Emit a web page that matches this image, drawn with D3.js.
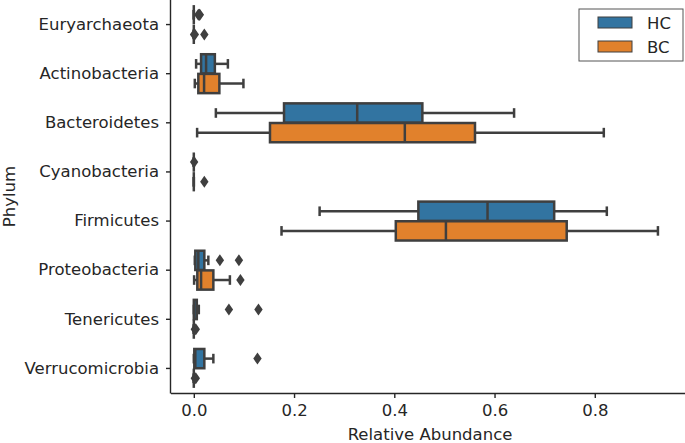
<!DOCTYPE html>
<html>
<head>
<meta charset="utf-8">
<script src="https://cdn.jsdelivr.net/npm/d3@7"></script>
<style>
  body { margin: 0; background: #fff; }
  text { font-family: "DejaVu Sans", sans-serif; fill: #262626; }
</style>
</head>
<body>
<svg width="685" height="443"></svg>
<script>
var categories = ["Euryarchaeota", "Actinobacteria", "Bacteroidetes", "Cyanobacteria",
  "Firmicutes", "Proteobacteria", "Tenericutes", "Verrucomicrobia"];
var groups = ["HC", "BC"];
var xTicks = [0, 0.2, 0.4, 0.6, 0.8];

// box stats per phylum: whisker low, q1, median, q3, whisker high
var hcLow = [0, 0.0046, 0.044, 0, 0.251, 0.002, 0, 0];
var hcQ1 = [0, 0.0145, 0.180, 0, 0.448, 0.003, 0, 0.001];
var hcMed = [0, 0.0245, 0.326, 0, 0.586, 0.009, 0.001, 0.003];
var hcQ3 = [0, 0.042, 0.456, 0, 0.719, 0.021, 0.006, 0.021];
var hcHigh = [0, 0.068, 0.639, 0, 0.824, 0.029, 0.010, 0.039];
var hcOutliers = [[0.009, 0.011, 0.012], [], [], [0.0006], [], [0.052, 0.090], [0.070, 0.129], [0.127]];

var bcLow = [0, 0.002, 0.0066, 0, 0.175, 0.0006, 0, 0];
var bcQ1 = [0, 0.009, 0.152, 0, 0.403, 0.007, 0, 0];
var bcMed = [0, 0.0205, 0.421, 0, 0.503, 0.0145, 0, 0];
var bcQ3 = [0, 0.051, 0.561, 0, 0.744, 0.039, 0, 0];
var bcHigh = [0, 0.099, 0.818, 0, 0.926, 0.072, 0, 0];
var bcOutliers = [[0.0005, 0.002, 0.021], [], [], [0.021], [], [0.093], [0.002, 0.004], [0.002, 0.004]];

var colors = { HC: "#3274a1", BC: "#e1812c" };
var gray = "#3f3f3f";
var lw = 2.5;

var svg = d3.select("svg"),
  width = +svg.attr("width"),
  height = +svg.attr("height");
var plotLeft = 171, plotTop = 0, plotBottom = 393;

var x = d3.scaleLinear().domain([-0.0455, 0.98]).range([plotLeft, width]);
var y = d3.scaleBand().domain(categories).range([plotTop, plotBottom]);
var hue = d3.scaleBand().domain(groups)
  .range([0.1 * y.bandwidth(), 0.9 * y.bandwidth()]);
var boxH = hue.bandwidth() * 0.98;

var stats = [];
categories.forEach(function (c, i) {
  stats.push({ cat: c, g: "HC", low: hcLow[i], q1: hcQ1[i], med: hcMed[i], q3: hcQ3[i], high: hcHigh[i], out: hcOutliers[i] });
  stats.push({ cat: c, g: "BC", low: bcLow[i], q1: bcQ1[i], med: bcMed[i], q3: bcQ3[i], high: bcHigh[i], out: bcOutliers[i] });
});

function cy(d) {
  return y(d.cat) + hue(d.g) + hue.bandwidth() / 2;
}

var box = svg.append("g").attr("class", "boxes")
  .selectAll("g").data(stats).enter().append("g");

// whiskers
box.append("line")
  .attr("x1", function (d) { return x(d.low); })
  .attr("x2", function (d) { return x(d.q1); })
  .attr("y1", cy).attr("y2", cy)
  .attr("stroke", gray).attr("stroke-width", lw);
box.append("line")
  .attr("x1", function (d) { return x(d.q3); })
  .attr("x2", function (d) { return x(d.high); })
  .attr("y1", cy).attr("y2", cy)
  .attr("stroke", gray).attr("stroke-width", lw);
// caps
["low", "high"].forEach(function (k) {
  box.append("line")
    .attr("x1", function (d) { return x(d[k]); })
    .attr("x2", function (d) { return x(d[k]); })
    .attr("y1", function (d) { return cy(d) - boxH / 4; })
    .attr("y2", function (d) { return cy(d) + boxH / 4; })
    .attr("stroke", gray).attr("stroke-width", lw);
});
// box
box.append("rect")
  .attr("x", function (d) { return x(d.q1); })
  .attr("width", function (d) { return x(d.q3) - x(d.q1); })
  .attr("y", function (d) { return cy(d) - boxH / 2; })
  .attr("height", boxH)
  .attr("fill", function (d) { return colors[d.g]; })
  .attr("stroke", gray).attr("stroke-width", lw);
// median
box.append("line")
  .attr("x1", function (d) { return x(d.med); })
  .attr("x2", function (d) { return x(d.med); })
  .attr("y1", function (d) { return cy(d) - boxH / 2; })
  .attr("y2", function (d) { return cy(d) + boxH / 2; })
  .attr("stroke", gray).attr("stroke-width", lw);
// outliers (thin diamonds)
box.selectAll("path.out")
  .data(function (d) { return d.out.map(function (v) { return { v: v, d: d }; }); })
  .enter().append("path")
  .attr("class", "out")
  .attr("d", "M0,-6L4.2,0L0,6L-4.2,0Z")
  .attr("transform", function (o) { return "translate(" + x(o.v) + "," + cy(o.d) + ")"; })
  .attr("fill", gray);

// axes
var xAxis = svg.append("g")
  .attr("transform", "translate(0," + plotBottom + ")")
  .call(d3.axisBottom(x).tickValues(xTicks).tickFormat(d3.format(".1f")).tickSize(5).tickPadding(6))
  .call(function (g) { g.select(".domain").attr("d", "M" + plotLeft + ",0.5H" + width); });
var yAxis = svg.append("g")
  .attr("transform", "translate(" + plotLeft + ",0)")
  .call(d3.axisLeft(y).tickSize(5).tickPadding(7))
  .call(function (g) { g.select(".domain").attr("d", "M-0.5," + plotTop + "V" + (plotBottom + 0.5)); });

[xAxis, yAxis].forEach(function (g) {
  g.select(".domain").attr("stroke", "#262626").attr("stroke-width", 1.4);
  g.selectAll(".tick line").attr("stroke", "#262626").attr("stroke-width", 1.4);
  g.selectAll(".tick text").attr("font-size", 16.5).attr("fill", "#262626")
    .style("font-family", "DejaVu Sans");
});

svg.append("text")
  .attr("x", (plotLeft + width) / 2 + 2).attr("y", 440)
  .attr("text-anchor", "middle").attr("font-size", 16.5)
  .text("Relative Abundance");
svg.append("text")
  .attr("transform", "translate(15," + (plotTop + plotBottom) / 2 + ") rotate(-90)")
  .attr("text-anchor", "middle").attr("font-size", 16.5)
  .text("Phylum");

// legend
var legend = svg.append("g").attr("transform", "translate(579,9)");
legend.append("rect")
  .attr("width", 104).attr("height", 52)
  .attr("fill", "#fff").attr("stroke", "#555").attr("stroke-width", 1);
legend.selectAll("g.item").data(groups).enter().append("g")
  .attr("class", "item")
  .attr("transform", function (d, i) { return "translate(0," + (8 + i * 24) + ")"; })
  .each(function (d) {
    var g = d3.select(this);
    g.append("rect").attr("x", 19).attr("y", 0).attr("width", 34).attr("height", 11)
      .attr("fill", colors[d]).attr("stroke", gray).attr("stroke-width", 1);
    g.append("text").attr("x", 68).attr("y", 6).attr("dy", "0.35em")
      .attr("font-size", 16.5).text(d);
  });
</script>
</body>
</html>
